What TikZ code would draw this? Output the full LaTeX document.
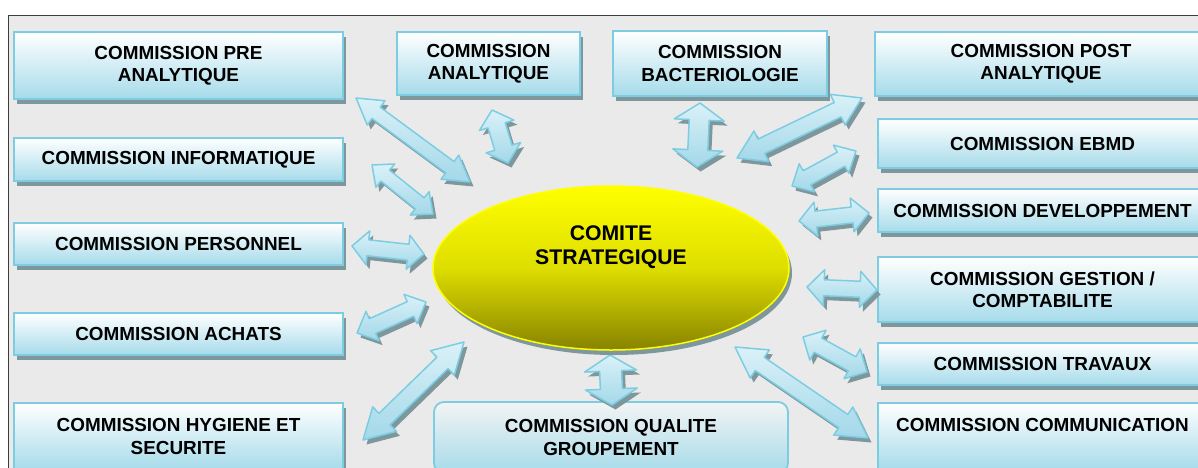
\documentclass[tikz,border=0pt]{standalone}
\usepackage{fontspec}
\setmainfont{Liberation Sans}
\usetikzlibrary{shadows,shapes.geometric}

\definecolor{framebg}{HTML}{EAEAEA}
\definecolor{frameline}{HTML}{3C3C3C}
\definecolor{boxline}{HTML}{7DCDE2}
\definecolor{boxblue}{HTML}{A6DBEA}
\definecolor{shadowgray}{HTML}{7D979C}
\definecolor{arrowlight}{HTML}{DAF1F8}
\definecolor{arrowdark}{HTML}{A3D8E9}
\definecolor{yellowtop}{HTML}{FFFF00}
\definecolor{yellowmid}{HTML}{DEDE00}
\definecolor{olivebottom}{HTML}{878300}
\definecolor{qualtop}{HTML}{F3F4F4}

\tikzset{
  boxfont/.style={font=\bfseries\fontsize{18.9}{22.4}\selectfont},
  commission/.style={boxfont, draw=boxline, line width=1.8pt,
    top color=white, bottom color=boxblue, align=center, inner sep=0pt,
    drop shadow={shadow xshift=3pt, shadow yshift=-5pt, fill=shadowgray, opacity=1}},
  qualitybox/.style={boxfont, draw=boxline, line width=1.8pt, rounded corners=10pt,
    top color=qualtop, bottom color=boxblue, align=center, inner sep=0pt},
  comite/.style={ellipse, draw=yellowtop, line width=1.5pt, inner sep=0pt,
    top color=yellowtop, bottom color=olivebottom, middle color=yellowmid,
    drop shadow={shadow xshift=3pt, shadow yshift=-5pt, fill=shadowgray, opacity=1}},
  arrowbody/.style={draw=boxline, line width=1.5pt, line join=round,
    top color=arrowlight, bottom color=arrowdark},
  arrowshadow/.style={fill=shadowgray, line join=round},
}

% outline of a two-headed block arrow, walked from its first tip
\def\arrowpath{%
  -- ++({\ah*(\aux)+\aH*(\apx)},{\ah*(\auy)+\aH*(\apy)})
  -- ++({-\anotch*(\apx)},{-\anotch*(\apy)})
  -- ++({\amid*(\aux)},{\amid*(\auy)})
  -- ++({\anotch*(\apx)},{\anotch*(\apy)})
  -- ++({\ah*(\aux)-\aH*(\apx)},{\ah*(\auy)-\aH*(\apy)})
  -- ++({-\ah*(\aux)-\aH*(\apx)},{-\ah*(\auy)-\aH*(\apy)})
  -- ++({\anotch*(\apx)},{\anotch*(\apy)})
  -- ++({-\amid*(\aux)},{-\amid*(\auy)})
  -- ++({-\anotch*(\apx)},{-\anotch*(\apy)})
  -- cycle}

% #1 name, (#2,#3) first tip, (#4,#5) second tip,
% #6 shaft half-width, #7 head half-width, #8 head length
\newcommand\dblarrow[8]{%
  \coordinate (#1-a) at (#2,#3);
  \coordinate (#1-b) at (#4,#5);
  \pgfmathsetmacro\adx{#4-#2}%
  \pgfmathsetmacro\ady{#5-#3}%
  \pgfmathsetmacro\alen{veclen(\adx,\ady)}%
  \pgfmathsetmacro\aux{\adx/\alen}%
  \pgfmathsetmacro\auy{\ady/\alen}%
  \pgfmathsetmacro\apx{-1*(\auy)}%
  \pgfmathsetmacro\apy{\aux}%
  \pgfmathsetmacro\ah{#8}%
  \pgfmathsetmacro\aH{#7}%
  \pgfmathsetmacro\anotch{#7-#6}%
  \pgfmathsetmacro\amid{\alen-2*#8}%
  \path[arrowshadow] ([shift={(3.5,4.5)}]#1-a) \arrowpath;
  \path[arrowbody] (#1-a) \arrowpath;
}

\begin{document}
\begin{tikzpicture}[x=1pt,y=-1pt]
\useasboundingbox (0,0) rectangle (1198,467);
\clip (0,0) rectangle (1198,467);

% panel
\path[draw=frameline, fill=framebg, line width=1pt] (8,15.5) rectangle (1240,500);

% left column
\node[commission, minimum width=329pt, minimum height=67pt] (pre) at (178.5,65.5) {COMMISSION PRE\\ANALYTIQUE};
\node[commission, minimum width=329pt, minimum height=43pt] (info) at (178.5,159.5) {COMMISSION INFORMATIQUE};
\node[commission, minimum width=329pt, minimum height=42pt] (pers) at (178.5,244) {COMMISSION PERSONNEL};
\node[commission, minimum width=329pt, minimum height=42pt] (achats) at (178.5,334) {COMMISSION ACHATS};
\node[commission, minimum width=329pt, minimum height=67pt] (hyg) at (178.5,436.5) {COMMISSION HYGIENE ET\\SECURITE};

% top row
\node[commission, minimum width=183pt, minimum height=63pt] (ana) at (488.5,63.5) {COMMISSION\\ANALYTIQUE};
\node[commission, minimum width=214pt, minimum height=65pt] (bact) at (720,63.5) {COMMISSION\\BACTERIOLOGIE};

% right column
\node[commission, minimum width=332pt, minimum height=64pt] (post) at (1041,64) {COMMISSION POST\\ANALYTIQUE};
\node[commission, minimum width=329pt, minimum height=49pt] (ebmd) at (1042.5,143.5) {COMMISSION EBMD};
\node[commission, minimum width=329pt, minimum height=43pt] (dev) at (1042.5,210.5) {COMMISSION DEVELOPPEMENT};
\node[commission, minimum width=329pt, minimum height=65pt] (gest) at (1042.5,289.5) {COMMISSION GESTION /\\COMPTABILITE};
\node[commission, minimum width=329pt, minimum height=42pt] (trav) at (1042.5,364) {COMMISSION TRAVAUX};
\node[commission, minimum width=329pt, minimum height=67pt] (comm) at (1042.5,436.5) {COMMISSION COMMUNICATION\\\mbox{}};

% bottom centre
\node[qualitybox, minimum width=354pt, minimum height=71pt] (qual) at (611,437.5) {COMMISSION QUALITE\\GROUPEMENT};

% two-headed links to the committee
\dblarrow{lpre}{356}{98}{470}{182}{7}{15}{25}
\dblarrow{lana}{492}{110}{508}{163}{9}{18}{16}
\dblarrow{linfo}{372}{165}{433}{214}{7}{15}{17}
\dblarrow{lpers}{352}{246}{424}{254}{8}{17}{16}
\dblarrow{lachats}{357}{333}{426}{302}{8}{16}{17}
\dblarrow{lhyg}{363}{440}{464}{342}{8}{17}{30}
\dblarrow{lbact}{700}{103}{697}{167}{10}{25}{17}
\dblarrow{lpost}{737}{158}{862}{98}{8}{17}{27}
\dblarrow{lebmd}{792}{186}{856}{151}{8}{16}{17}
\dblarrow{ldev}{799}{221}{869}{213}{8}{17}{17}
\dblarrow{lgest}{807}{287}{877}{290}{8}{18}{17}
\dblarrow{ltrav}{803}{337}{867}{372}{8}{17}{17}
\dblarrow{lcomm}{735}{347}{868}{438}{8}{17}{30}
\dblarrow{lqual}{610}{355}{612}{405}{11}{26}{16}

% central committee
\node[comite, minimum width=356pt, minimum height=164pt] (cs) at (611,268) {};
\node[font=\bfseries\fontsize{21.2}{24.3}\selectfont, align=center, inner sep=0pt] (cstext) at (611,247) {COMITE\\STRATEGIQUE};
\end{tikzpicture}
\end{document}
